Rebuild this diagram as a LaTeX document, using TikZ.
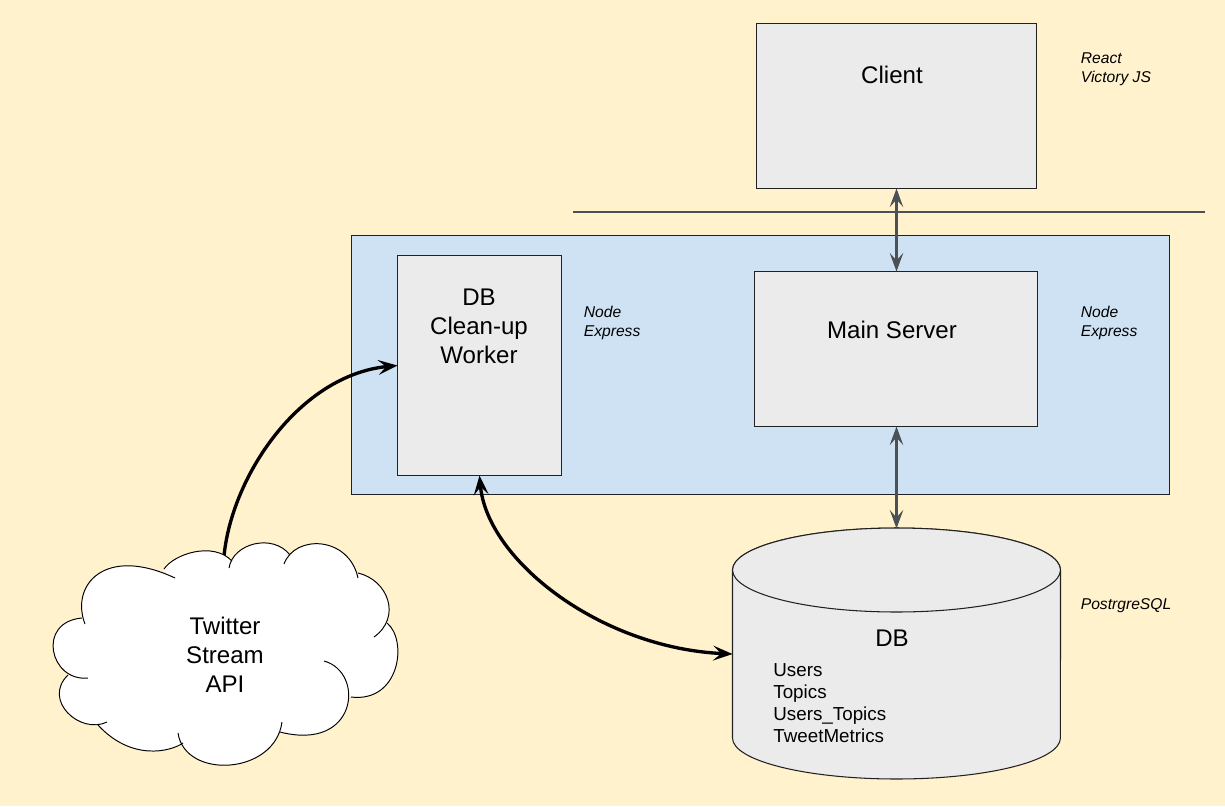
\documentclass[tikz,border=0pt]{standalone}
\usepackage{fontspec}
\setmainfont{Liberation Sans}
\usepackage{xcolor}
\usetikzlibrary{arrows.meta}
\definecolor{pagebg}{HTML}{FFF2CC}
\definecolor{serverbg}{HTML}{CFE2F3}
\definecolor{boxbg}{HTML}{EBEBEB}
\definecolor{edgeline}{HTML}{212121}
\definecolor{linkgrey}{HTML}{4B5154}
\tikzset{box/.style={rectangle,draw=edgeline,line width=0.6pt,fill=boxbg,inner sep=0pt,outer sep=0pt},
server/.style={box,fill=serverbg},
store/.style={rectangle,inner sep=0pt,outer sep=0pt},
storeline/.style={draw=edgeline,line width=0.6pt,fill=boxbg},
title/.style={align=center,inner sep=0pt,font=\fontsize{13.7}{16.5}\selectfont},
tables/.style={align=left,anchor=west,inner sep=0pt,font=\fontsize{10.7}{12.4}\selectfont},
stack/.style={align=left,anchor=west,inner sep=0pt,font=\fontsize{8.9}{10.6}\selectfont\itshape},
greytip/.tip={Stealth[length=10.5pt,width=7.6pt,inset=4.2pt]},
blacktip/.tip={Stealth[length=11pt,width=8.4pt,inset=4.5pt]},
greylink/.style={greytip-greytip,draw=linkgrey,line width=2pt},
blacklink/.style={-blacktip,draw=black,line width=1.9pt},
blacklinks/.style={blacktip-blacktip,draw=black,line width=1.9pt},
lobe/.style={draw=black,line width=0.55pt}}
\newcommand{\cloudlobes}{164/569/174/554/213/541/232/561,
229/568/233/543/273/533/290/555,
284/564/295/534/349/536/358/578,
358/573/388/580/402/617/374/637,
387/623/408/640/400/703/351/697,
324/661/365/672/358/752/280/732,
282/722/275/775/185/780/178/733,
183/743/170/752/131/761/98/725,
107/722/80/735/42/700/68/675,
88/678/50/682/36/622/82/618,
85/624/70/585/105/545/175/578}

\begin{document}
\begin{tikzpicture}[x=0.02cm,y=-0.02cm]

\fill[pagebg] (0,0) rectangle (1225,806);
\useasboundingbox (0,0) rectangle (1225,806);

\node(serverbox) at (760.5,365) [server,minimum width=16.36cm,minimum height=5.18cm] {};
\node(client) at (896.5,106) [box,minimum width=5.6cm,minimum height=3.3cm] {};
\node(mainserver) at (896,349) [box,minimum width=5.66cm,minimum height=3.1cm] {};
\node(worker) at (479.5,365.5) [box,minimum width=3.28cm,minimum height=4.4cm] {};
\node(db) at (896.5,654) [store,minimum width=6.56cm,minimum height=5.02cm] {};

\draw[storeline] (732.5,570) -- (732.5,738) arc[start angle=180,end angle=360,x radius=3.28cm,y radius=0.82cm] -- (1060.5,570) arc[start angle=0,end angle=180,x radius=3.28cm,y radius=0.84cm] -- cycle;
\draw[storeline] (896.5,570) ellipse (3.28cm and 0.84cm);

\node(clienttext) at (892,75) [title] {Client};
\node(maintext) at (892,330) [title] {Main Server};
\node(workertext) at (479,326) [title] {DB\\Clean-up\\Worker};
\node(dbtext) at (892,638) [title] {DB};
\node(dbtables) at (773,703) [tables] {Users\\Topics\\Users\_Topics\\TweetMetrics};

\node(clientstack) at (1080.5,69) [stack] {React\\Victory JS};
\node(workerstack) at (583.5,323) [stack] {Node\\Express};
\node(mainstack) at (1080.5,323) [stack] {Node\\Express};
\node(dbstack) at (1080.5,606) [stack] {PostrgreSQL};

\coordinate(lineleft) at (573,212);
\coordinate(lineright) at (1205,212);
\coordinate(cloudtop) at (224,556);

\draw[linkgrey,line width=1.3pt] (lineleft) -- (lineright);

\draw[blacklink] (cloudtop) .. controls (232,475) and (300,375) .. (worker.west);
\draw[blacklinks] (worker.south) .. controls (487,560) and (600,648) .. (db.west);
\draw[greylink] (client.south) -- (client.south |- mainserver.north);
\draw[greylink] (mainserver.south -| db.north) -- (db.north);

\foreach \ax/\ay/\bx/\by/\cx/\cy/\dx/\dy in \cloudlobes
  \fill[white] (\ax,\ay) .. controls (\bx,\by) and (\cx,\cy) .. (\dx,\dy) -- (225,654) -- cycle;
\foreach \ax/\ay/\bx/\by/\cx/\cy/\dx/\dy in \cloudlobes
  \draw[lobe] (\ax,\ay) .. controls (\bx,\by) and (\cx,\cy) .. (\dx,\dy);
\node(twitter) at (225,655) [title] {Twitter\\Stream\\API};

\end{tikzpicture}
\end{document}
